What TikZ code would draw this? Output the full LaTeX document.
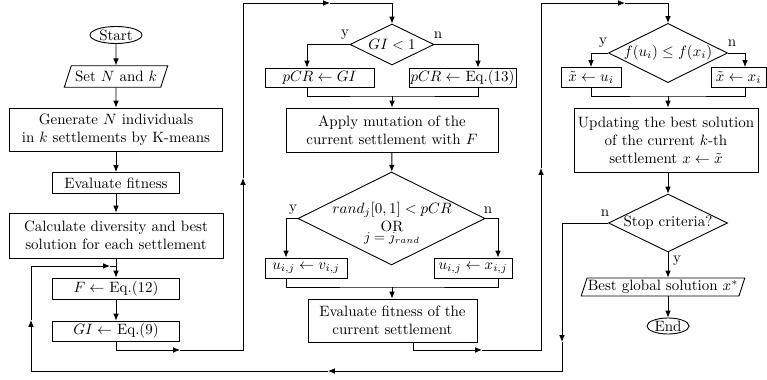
\documentclass[tikz,border=0pt]{standalone}
\usetikzlibrary{shapes.geometric,arrows.meta,calc}
\begin{document}
\begin{tikzpicture}[x=0.6667pt,y=-0.6667pt, line width=0.6pt,
  pw/.style={minimum width=#1*0.6667pt},
  ph/.style={minimum height=#1*0.6667pt},
  box/.style={draw, rectangle, inner sep=1pt, align=center},
  dia/.style={draw, diamond, inner sep=0pt, align=center, aspect=2},
  io/.style={draw, trapezium, trapezium left angle=72, trapezium right angle=108, inner xsep=2.5pt, inner ysep=3.5pt},
  term/.style={draw, ellipse, inner sep=0pt},
  arr/.style={-{Latex[length=4.6pt,width=3.8pt]}},
  lab/.style={inner sep=0pt}]
\useasboundingbox (0,0) rectangle (767,380);

% column x positions
\coordinate (cA) at (116,0);
\coordinate (cB) at (392,0);
\coordinate (cC) at (668,0);
\coordinate (xg1) at (307,0);
\coordinate (xg2) at (478,0);
\coordinate (xr1) at (286,0);
\coordinate (xr2) at (498,0);
\coordinate (xf1) at (591,0);
\coordinate (xf2) at (745,0);
\coordinate (xe) at (413,0);

% column 1
\node[term, pw=52, ph=17] (start) at (116,35) {Start};
\node[io] (set) at (116,76.5) {Set $N$ and $k$};
\node[box, pw=213, ph=43] (gen) at (116,129.5) {Generate $N$ individuals\\in $k$ settlements by K-means};
\node[box, pw=127, ph=21] (eval) at (116,183) {Evaluate fitness};
\node[box, pw=214, ph=45] (calc) at (116,235.5) {Calculate diversity and best\\solution for each settlement};
\node[box, pw=127, ph=21] (fbox) at (116,288.5) {$F \leftarrow$ Eq.(12)};
\node[box, pw=127, ph=20] (gibox) at (116,331) {$GI \leftarrow$ Eq.(9)};

% column 2
\node[dia, pw=84, ph=41] (gi) at (392,44.5) {$GI < 1$};
\node[box, pw=109, ph=19] (pcr1) at (319.5,77.5) {$pCR \leftarrow GI$};
\node[box, pw=107, ph=19] (pcr2) at (462.5,77.5) {$pCR \leftarrow$ Eq.(13)};
\node[box, pw=212, ph=44] (mut) at (392,130) {Apply mutation of the\\current settlement with $F$};
\node[dia, pw=187, ph=93] (rnd) at (391.5,218.5) {};
\node[inner sep=0pt, align=center, anchor=north] (rndt) at (392,202) {$rand_j[0,1] < pCR$\\OR\\[-5.5pt]{\small $j = j_{rand}$}};
\node[box, pw=82, ph=20] (u1) at (306,268) {$u_{i,j} \leftarrow v_{i,j}$};
\node[box, pw=78, ph=20] (u2) at (473,268) {$u_{i,j} \leftarrow x_{i,j}$};
\node[box, pw=169, ph=43] (ev2) at (392.5,320.5) {Evaluate fitness of the\\current settlement};

% column 3
\node[dia, pw=119, ph=58] (fd) at (668,53) {$f(u_i) \leq f(x_i)$};
\node[box, pw=60, ph=20] (xu) at (591,77.5) {$\tilde{x} \leftarrow u_i$};
\node[box, pw=55, ph=20] (xx) at (738.5,77.5) {$\tilde{x} \leftarrow x_i$};
\node[box, pw=184, ph=64] (upd) at (666,140) {Updating the best solution\\of the current $k$-th\\settlement $x \leftarrow \tilde{x}$};
\node[dia, pw=119, ph=58] (stop) at (668,223) {Stop criteria?};
\node[io, inner ysep=1.5pt, inner xsep=0.5pt] (best) at (663,287) {Best global solution $x^*$};
\node[term, pw=42, ph=16] (end) at (668,326) {End};

% labels
\node[lab] (ly1) at (345,35) {y};
\node[lab] (ln1) at (438,35) {n};
\node[lab] (ly2) at (293,210) {y};
\node[lab] (ln2) at (488,210) {n};
\node[lab] (ly3) at (603,43) {y};
\node[lab] (ln3) at (732,43) {n};
\node[lab] (ln4) at (605,213) {n};
\node[lab] (ly4) at (677,261) {y};

% column 1 connectors
\draw[arr] (start) -- (set);
\draw[arr] (set) -- (gen.north -| cA);
\draw[arr] (gen.south -| cA) -- (eval);
\draw[arr] (eval) -- (calc);
\draw[arr] (calc) -- (fbox);
\draw[arr] (fbox) -- (gibox);

% loop to column 2
\coordinate (a1) at (180,350);
\coordinate (a2) at (243,350);
\coordinate (a3) at (243,178);
\coordinate (a4) at (243,3);
\coordinate (a5) at (330,3);
\coordinate (a6) at (392,3);
\draw[arr] (gibox.south) |- (a1);
\draw[arr] (a1) -- (a2) -- (a3);
\draw[arr] (a3) -- (a4) -- (a5);
\draw[arr] (a5) -- (a6) -- (gi.north);

% column 2 connectors
\coordinate (j1) at (392,96);
\coordinate (j2) at (392,287);
\draw[arr] (gi.west) -| (pcr1.north -| xg1);
\draw[arr] (gi.east) -| (pcr2.north -| xg2);
\draw (pcr1.south -| xg1) |- (j1) -| (pcr2.south -| xg2);
\draw[arr] (j1) -- (mut);
\draw[arr] (mut) -- (rnd);
\draw[arr] (rnd.west) -| (u1.north -| xr1);
\draw[arr] (rnd.east) -| (u2.north -| xr2);
\draw (u1.south -| xr1) |- (j2) -| (u2.south -| xr2);
\draw[arr] (j2) -- (ev2.north -| cB);

% loop to column 3
\coordinate (b1) at (482,350);
\coordinate (b2) at (541,350);
\coordinate (b3) at (541,168);
\coordinate (b4) at (541,3);
\coordinate (b5) at (625,3);
\coordinate (b6) at (668,3);
\draw[arr] (ev2.south -| xe) |- (b1);
\draw[arr] (b1) -- (b2) -- (b3);
\draw[arr] (b3) -- (b4) -- (b5);
\draw[arr] (b5) -- (b6) -- (fd.north);

% column 3 connectors
\coordinate (j3) at (668,96);
\draw[arr] (fd.west) -| (xu.north -| xf1);
\draw[arr] (fd.east) -| (xx.north -| xf2);
\draw (xu.south -| xf1) |- (j3) -| (xx.south -| xf2);
\draw[arr] (j3) -- (upd.north -| cC);
\draw[arr] (upd.south -| cC) -- (stop.north);
\draw[arr] (stop.south) -- (best.north -| cC);
\draw[arr] (best.south -| cC) -- (end);

% return loop
\coordinate (d1) at (562,342);
\coordinate (d2) at (562,371);
\coordinate (d3) at (328,371);
\coordinate (d4) at (31,371);
\coordinate (d5) at (31,320);
\coordinate (d6) at (31,266);
\coordinate (d7) at (110,266);
\coordinate (d8) at (116,266);
\draw[arr] (stop.west) -| (d1);
\draw[arr] (d1) -- (d2) -- (d3);
\draw[arr] (d3) -- (d4) -- (d5);
\draw[arr] (d5) -- (d6) -- (d7);
\draw (d7) -- (d8);
\end{tikzpicture}
\end{document}
